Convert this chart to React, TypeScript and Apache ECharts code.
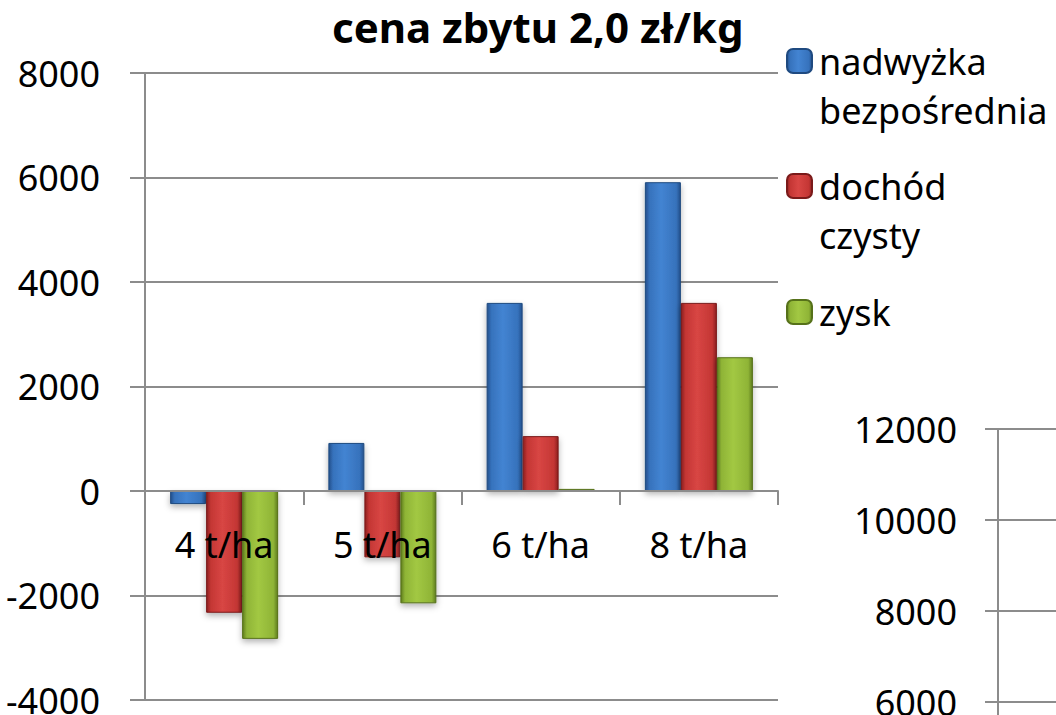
import React, { useEffect, useRef } from "react";
import * as echarts from "echarts";

const categories = ["4 t/ha", "5 t/ha", "6 t/ha", "8 t/ha"];
const nadwyzka = [-250, 920, 3600, 5910];
const dochod = [-2330, -1270, 1050, 3600];
const zysk = [-2830, -2150, 40, 2560];
const seriesNames = ["nadwyżka bezpośrednia", "dochód czysty", "zysk"];
const legendLabels = ["\nnadwyżka\nbezpośrednia", "\ndochód\nczysty", "zysk"];

const FONT = "Noto Sans";
const GRID = "#8c8c8c";

function grad(dark: string, mid: string, light: string) {
  return new echarts.graphic.LinearGradient(0, 0, 1, 0, [
    { offset: 0, color: dark },
    { offset: 0.12, color: mid },
    { offset: 0.45, color: light },
    { offset: 0.88, color: mid },
    { offset: 1, color: dark },
  ]);
}

export default function App() {
  const ref = useRef<HTMLDivElement>(null);
  useEffect(() => {
    document.body.style.margin = "0";
    const chart = echarts.init(ref.current!, null, { renderer: "svg" });
    const colors = [
      { c: grad("#24508c", "#3672bc", "#4384d2"), b: "#1f4a80" },
      { c: grad("#8c2020", "#c43634", "#d84644"), b: "#7a1a1a" },
      { c: grad("#5f7d1e", "#8fb436", "#a2c843"), b: "#56711a" },
    ];
    const values = [nadwyzka, dochod, zysk];
    const legendTops = [-12.5, 112.5, 287.5];
    const fmt = (v: number) => String(v);
    const yMin = -4000;
    const yMax = 8000;
    const gridTop = 73;
    const gridH = 627;
    // place the category axis at the zero line (pixel offset from grid bottom)
    const zeroOffset = -((0 - yMin) / (yMax - yMin)) * gridH;
    const option: any = {
      animation: false,
      title: {
        text: "cena zbytu 2,0 zł/kg",
        left: 332,
        top: 5,
        padding: 0,
        textStyle: { fontFamily: FONT, fontSize: 42, fontWeight: "bold", color: "#000" },
      },
      legend: seriesNames.map((n, i) => ({
        data: [n],
        orient: "vertical",
        left: 786,
        top: legendTops[i],
        padding: 0,
        itemWidth: 25,
        itemHeight: 24,
        selectedMode: false,
        formatter: () => legendLabels[i],
        textStyle: {
          fontFamily: FONT,
          fontSize: 36,
          lineHeight: 49,
          color: "#000",
          padding: [0, 0, 0, 2],
        },
      })),
      grid: [
        { left: 145, top: gridTop, width: 633, height: gridH, outerBoundsMode: "none", containLabel: false },
        { left: 998, top: 429, width: 300, height: 546, outerBoundsMode: "none", containLabel: false },
      ],
      xAxis: [
        {
          type: "category",
          data: categories,
          gridIndex: 0,
          position: "bottom",
          offset: zeroOffset,
          z: 10,
          axisLine: { onZero: false, lineStyle: { color: GRID, width: 2 } },
          axisTick: { show: true, length: 14, lineStyle: { color: GRID, width: 2 } },
          axisLabel: { fontFamily: FONT, fontSize: 36, color: "#000", margin: 35 },
        },
        { type: "value", gridIndex: 1, min: 0, max: 1, show: false },
      ],
      yAxis: [
        {
          type: "value",
          gridIndex: 0,
          min: yMin,
          max: yMax,
          interval: 2000,
          axisLine: { show: true, lineStyle: { color: GRID, width: 2 } },
          axisTick: { show: true, length: 15, lineStyle: { color: GRID, width: 2 } },
          splitLine: { show: true, lineStyle: { color: GRID, width: 2 } },
          axisLabel: { fontFamily: FONT, fontSize: 36, color: "#000", margin: 45, formatter: fmt },
        },
        {
          type: "value",
          gridIndex: 1,
          min: 0,
          max: 12000,
          interval: 2000,
          axisLine: { show: true, lineStyle: { color: GRID, width: 2 } },
          axisTick: { show: true, length: 13, lineStyle: { color: GRID, width: 2 } },
          splitLine: { show: true, lineStyle: { color: GRID, width: 2 } },
          axisLabel: { fontFamily: FONT, fontSize: 36, color: "#000", margin: 41, formatter: fmt },
        },
      ],
      series: seriesNames.map((n, i) => ({
        name: n,
        type: "bar",
        xAxisIndex: 0,
        yAxisIndex: 0,
        data: values[i],
        barWidth: 36,
        barGap: "0%",
        itemStyle: {
          color: colors[i].c,
          borderColor: colors[i].b,
          borderWidth: 1,
          shadowBlur: 6,
          shadowColor: "rgba(0,0,0,0.3)",
          shadowOffsetY: 3,
        },
      })),
    };
    chart.setOption(option);
    return () => chart.dispose();
  }, []);
  return <div ref={ref} style={{ width: 1056, height: 715 }} />;
}
